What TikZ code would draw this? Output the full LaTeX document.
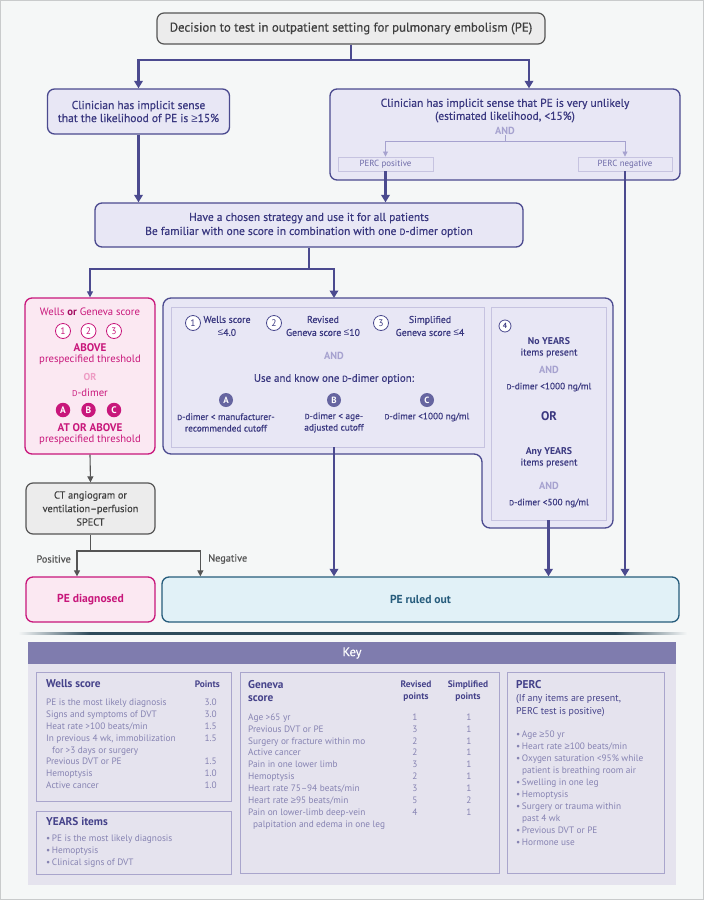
\documentclass[tikz,border=0pt]{standalone}
\usepackage{fontspec}
\setmainfont{PT Sans}
\newfontfamily\medf[FakeBold=0.45]{PT Sans}
\newfontfamily\symf{Liberation Sans}
\usetikzlibrary{arrows.meta,calc}
\definecolor{bg}{HTML}{F5F7F7}
\definecolor{frame}{HTML}{C9CBCC}
\definecolor{pur}{HTML}{4B4A8F}
\definecolor{purtxt}{HTML}{3A3880}
\definecolor{lav}{HTML}{E8E7F5}
\definecolor{lavline}{HTML}{C6C3E0}
\definecolor{lightpur}{HTML}{A6A2CF}
\definecolor{perctxt}{HTML}{6E6BA8}
\definecolor{mag}{HTML}{C8177B}
\definecolor{magdark}{HTML}{A30E62}
\definecolor{pinkfill}{HTML}{FBE8F2}
\definecolor{lightpink}{HTML}{EE9CC4}
\definecolor{gry}{HTML}{555555}
\definecolor{gryfill}{HTML}{ECECEC}
\definecolor{titletxt}{HTML}{3F3F3F}
\definecolor{teal}{HTML}{265C7C}
\definecolor{tealfill}{HTML}{E1F1F7}
\definecolor{sepcol}{HTML}{2D4A5A}
\definecolor{keyhead}{HTML}{7F7CAE}
\definecolor{keybg}{HTML}{E5E3EE}
\definecolor{keyline}{HTML}{A9A5CC}
\definecolor{keytxt}{HTML}{8683B2}
\definecolor{keyhd}{HTML}{45428A}
\newcommand{\Dd}{\scalebox{0.78}{D}}
\newcommand{\bul}{•\,}
\newcommand{\GEQ}{{\symf ≥}}
\newcommand{\LEQ}{{\symf ≤}}
\begin{document}
\begin{tikzpicture}[x=1pt,y=-1pt,
  thk/.style={draw=pur, line width=2.6pt},
  thkarr/.style={thk, -{Triangle[width=8.5pt,length=7.5pt]}},
  thinarr/.style={draw=pur, line width=1.1pt, -{Triangle[width=6pt,length=6pt]}},
  gryarr/.style={draw=gry, line width=1.1pt, -{Triangle[width=6pt,length=6pt]}},
  lightarr/.style={draw=lightpur, line width=0.8pt, -{Triangle[width=5pt,length=5pt]}},
  mainbox/.style={draw=pur, fill=lav, line width=1.3pt, rounded corners=7pt, inner sep=0pt, align=center, text=purtxt},
  percbox/.style={draw=lavline, fill=lav, line width=0.9pt, minimum height=14pt, inner sep=0pt, text=perctxt, font=\fontsize{8.9}{10}\selectfont},
  innerbox/.style={draw=lavline, fill=lav, line width=0.9pt, inner sep=0pt},
  txt/.style={inner sep=0.5pt, align=center},
  ocirc/.style={circle, draw=pur, fill=white, line width=0.8pt, minimum size=15pt, inner sep=0pt, text=purtxt, font=\fontsize{9.5}{9}\selectfont},
  fcirc/.style={circle, fill=pur!85!white, minimum size=14pt, inner sep=0pt, text=white, font=\fontsize{9}{9}\selectfont\bfseries},
  pcirc/.style={circle, draw=mag, fill=white, line width=0.8pt, minimum size=15pt, inner sep=0pt, text=mag, font=\fontsize{9.5}{9}\selectfont},
  pfcirc/.style={circle, fill=mag, minimum size=14.5pt, inner sep=0pt, text=white, font=\fontsize{9.5}{9}\selectfont\bfseries},
  pt/.style={inner sep=0.5pt, text=mag, font=\fontsize{10.7}{12}\selectfont},
  ptb/.style={inner sep=0.5pt, text=mag, font=\fontsize{11.1}{12}\selectfont\bfseries},
  st/.style={inner sep=0.5pt, align=center, text=purtxt, font=\medf\fontsize{9.8}{13}\selectfont},
  sd/.style={inner sep=0.5pt, align=center, text=purtxt, font=\medf\fontsize{9.3}{11.5}\selectfont},
  andt/.style={inner sep=0.5pt, text=lightpur, font=\fontsize{10.3}{11}\selectfont\bfseries},
  keybox/.style={draw=keyline, fill=keybg, line width=0.9pt, inner sep=0pt},
  keyt/.style={inner sep=0pt, text=keytxt, font=\fontsize{9.3}{10}\selectfont},
  keyh/.style={inner sep=0pt, text=keyhd, font=\fontsize{11.3}{12}\selectfont\bfseries},
  keyc/.style={inner sep=0pt, text=keyhd, font=\fontsize{9.4}{10}\selectfont\bfseries}
]
\useasboundingbox (0,0) rectangle (704,900);
\draw[fill=bg, draw=frame, line width=1pt] (0.5,0.5) rectangle (703.5,899.5);

% ---------- top part
\node[draw=gry, fill=gryfill, line width=1.2pt, rounded corners=7pt, minimum width=388pt, minimum height=31pt, inner sep=0pt, text=titletxt, font=\medf\fontsize{12.8}{14}\selectfont] (title) at (351,28.5) {Decision to test in outpatient setting for pulmonary embolism (PE)};

\node[mainbox, minimum width=182pt, minimum height=45pt, font=\medf\fontsize{11.5}{13}\selectfont] (lbox) at (138.5,111.5) {Clinician has implicit sense\\that the likelihood of PE is \GEQ15\%};

\node[mainbox, minimum width=350pt, minimum height=91pt] (rbox) at (505,134.5) {};
\node[txt, text=purtxt, font=\medf\fontsize{11.5}{13}\selectfont] (rtext) at (505,110.5) {Clinician has implicit sense that PE is very unlikely\\(estimated likelihood, <15\%)};
\node[andt] (rand) at (505,131) {AND};
\node[percbox, minimum width=95pt] (ppos) at (385.5,164) {PERC positive};
\node[percbox, minimum width=94pt] (pneg) at (625,164) {PERC negative};
\coordinate (rj) at (505,141);
\draw[draw=lightpur, line width=0.8pt] (rand.south) -- (rj);
\draw[lightarr] (rj) -| (ppos.north);
\draw[lightarr] (rj) -| (pneg.north);

\node[mainbox, minimum width=428pt, minimum height=44pt, font=\medf\fontsize{11.5}{14}\selectfont] (strat) at (309,225) {Have a chosen strategy and use it for all patients\\Be familiar with one score in combination with one \Dd-dimer option};

\coordinate (tj) at (351,60);
\draw[thkarr] (title.south) -- (tj) -| (lbox.north);
\draw[thkarr] (title.south) -- (tj) -| ([xshift=24pt]rbox.north);
\draw[thkarr] (lbox.south) -- (lbox.south |- strat.north);
\draw[thkarr] (ppos.south) -- (ppos.south |- strat.north);

% ---------- middle part
\draw[draw=pur, fill=lav, line width=1.3pt, rounded corners=8pt] (390,298) -- (613,298) -- (613,528) -- (482,528) -- (482,454) -- (163,454) -- (163,298) -- cycle;
\node[innerbox, minimum width=313pt, minimum height=140pt] (sc) at (327.5,377) {};
\node[innerbox, minimum width=115pt, minimum height=213pt] (years) at (548.5,413.5) {};

\node[draw=mag, fill=pinkfill, line width=1.3pt, rounded corners=7pt, minimum width=130pt, minimum height=156pt, inner sep=0pt] (pink) at (90,376) {};

\coordinate (sj) at (309,269);
\coordinate (otop) at (334,298);
\draw[thinarr] (sj) -| (pink.north);
\draw[thkarr] (strat.south) -- (sj) -| (otop);

% pink contents
\node[pt] (p1) at (90,312) {Wells {\bfseries\color{magdark}or} Geneva score};
\node[pcirc] (pc1) at (63,331) {1};
\node[pcirc] (pc2) at (88.5,331) {2};
\node[pcirc] (pc3) at (114,331) {3};
\node[ptb] (p2) at (90,348) {ABOVE};
\node[pt] (p3) at (90,360) {prespecified threshold};
\node[pt, text=lightpink, font=\fontsize{10}{11}\selectfont\bfseries] (p4) at (90,377) {OR};
\node[pt] (p5) at (90,393) {\Dd-dimer};
\node[pfcirc] (pa) at (63,410) {A};
\node[pfcirc] (pb) at (88.5,410) {B};
\node[pfcirc] (pcc) at (114,410) {C};
\node[ptb] (p6) at (90,428) {AT OR ABOVE};
\node[pt] (p7) at (90,440) {prespecified threshold};

% score box contents
\node[ocirc] (c1) at (193,323) {1};
\node[st] (s1) at (227,326) {Wells score\\\LEQ4.0};
\node[ocirc] (c2) at (274,323) {2};
\node[st] (s2) at (323,326) {Revised\\Geneva score \LEQ10};
\node[ocirc] (c3) at (381,323) {3};
\node[st] (s3) at (430,326) {Simplified\\Geneva score \LEQ4};
\node[andt] (sand) at (334,356) {AND};
\node[st, font=\medf\fontsize{10.9}{12}\selectfont] (suse) at (334,379) {Use and know one \Dd-dimer option:};
\node[fcirc] (fa) at (226,400) {A};
\node[fcirc] (fb) at (334,400) {B};
\node[fcirc] (fc) at (427,400) {C};
\node[sd] (da) at (226,422.5) {\Dd-dimer < manufacturer-\\recommended cutoff};
\node[sd] (db) at (334,422.5) {\Dd-dimer < age-\\adjusted cutoff};
\node[sd] (dc) at (427,417) {\Dd-dimer <1000 ng/ml};

% years contents
\node[ocirc, minimum size=12pt, font=\fontsize{7.5}{7}\selectfont\bfseries] (c4) at (505,326) {4};
\node[st, font=\fontsize{9.8}{10}\selectfont\bfseries] (y1) at (549,341) {No YEARS};
\node[st] (y2) at (549,353) {items present};
\node[andt] (y3) at (549,370) {AND};
\node[sd] (y4) at (549,387) {\Dd-dimer <1000 ng/ml};
\node[st, font=\fontsize{12.5}{14}\selectfont\bfseries] (y5) at (549,416) {OR};
\node[st, font=\fontsize{9.8}{10}\selectfont\bfseries] (y6) at (549,452) {Any YEARS};
\node[st] (y7) at (549,463) {items present};
\node[andt] (y8) at (549,486) {AND};
\node[sd] (y9) at (549,503) {\Dd-dimer <500 ng/ml};

% ---------- lower part
\node[draw=gry, fill=gryfill, line width=1.2pt, rounded corners=7pt, minimum width=129pt, minimum height=51pt, inner sep=0pt, align=center, text=titletxt, font=\medf\fontsize{10.3}{13.5}\selectfont] (ct) at (90.5,508.5) {CT angiogram or\\ventilation–perfusion\\SPECT};
\draw[gryarr] (pink.south) -- (ct.north);

\node[draw=mag, fill=pinkfill, line width=1.3pt, rounded corners=7pt, minimum width=129pt, minimum height=45pt, inner sep=0pt, text=mag, font=\fontsize{11.6}{12}\selectfont\bfseries] (diag) at (90.5,599.5) {PE diagnosed};
\node[draw=teal, fill=tealfill, line width=1.3pt, rounded corners=7pt, minimum width=517pt, minimum height=45pt, inner sep=0pt, text=teal, font=\fontsize{11.6}{12}\selectfont\bfseries] (ruled) at (420.5,599.5) {PE ruled out};

\coordinate (cj) at (90.5,551);
\draw[gryarr] (ct.south) -- (cj) -| ([xshift=-13.5pt]diag.north);
\draw[gryarr] (cj) -| ([xshift=39pt]ruled.north west);
\node[inner sep=0pt, anchor=east, text=gry, font=\medf\fontsize{10.3}{11}\selectfont] (lpos) at (71,559) {Positive};
\node[inner sep=0pt, anchor=west, text=gry, font=\medf\fontsize{10.3}{11}\selectfont] (lneg) at (208,559) {Negative};

\coordinate (scb) at ([xshift=6.5pt]sc.south);
\draw[thkarr] (scb) -- (scb |- ruled.north);
\draw[thkarr] (years.south) -- (years.south |- ruled.north);
\draw[thkarr] (pneg.south) -- (pneg.south |- ruled.north);

% separator
\shade[left color=bg, right color=sepcol] (18,632) rectangle (90,634.5);
\fill[sepcol] (90,632) rectangle (615,634.5);
\shade[left color=sepcol, right color=bg] (615,632) rectangle (687,634.5);

% ---------- key
\fill[keybg] (28,664) rectangle (676,885);
\node[fill=keyhead, minimum width=648pt, minimum height=22pt, inner sep=0pt, text=white, font=\medf\fontsize{12.5}{13}\selectfont] (keyh) at (352,653) {Key};

\node[keybox, minimum width=195pt, minimum height=129pt] (wbox) at (133.5,736.5) {};
\node[keybox, minimum width=195pt, minimum height=63pt] (ybox) at (133.5,842.5) {};
\node[keybox, minimum width=259pt, minimum height=201pt] (gbox) at (369.5,772.5) {};
\node[keybox, minimum width=157pt, minimum height=201pt] (pbox) at (585.5,772.5) {};

% Wells
\node[keyh, anchor=base west] (wh) at (46,687) {Wells score};
\node[keyc, anchor=base east] (whp) at (220,687) {Points};
\node[keyt, anchor=base west] (w1) at (46,705) {PE is the most likely diagnosis};
\node[keyt, anchor=base west] (w2) at (46,717) {Signs and symptoms of DVT};
\node[keyt, anchor=base west] (w3) at (46,729) {Heat rate >100 beats/min};
\node[keyt, anchor=base west] (w4) at (46,741) {In previous 4 wk, immobilization};
\node[keyt, anchor=base west] (w5) at (52,753) {for >3 days or surgery};
\node[keyt, anchor=base west] (w6) at (46,764) {Previous DVT or PE};
\node[keyt, anchor=base west] (w7) at (46,776) {Hemoptysis};
\node[keyt, anchor=base west] (w8) at (46,788) {Active cancer};
\node[keyt, anchor=base east] (wv1) at (217,705) {3.0};
\node[keyt, anchor=base east] (wv2) at (217,717) {3.0};
\node[keyt, anchor=base east] (wv3) at (217,729) {1.5};
\node[keyt, anchor=base east] (wv4) at (217,741) {1.5};
\node[keyt, anchor=base east] (wv6) at (217,764) {1.5};
\node[keyt, anchor=base east] (wv7) at (217,776) {1.0};
\node[keyt, anchor=base east] (wv8) at (217,788) {1.0};

% YEARS
\node[keyh, anchor=base west] (yh) at (46,825) {YEARS items};
\node[keyt, anchor=base west] (yi1) at (46,841) {\bul PE is the most likely diagnosis};
\node[keyt, anchor=base west] (yi2) at (46,853) {\bul Hemoptysis};
\node[keyt, anchor=base west] (yi3) at (46,865) {\bul Clinical signs of DVT};

% Geneva
\node[keyh, anchor=base west] (gh1) at (248,688) {Geneva};
\node[keyh, anchor=base west] (gh2) at (248,701) {score};
\node[keyc, anchor=base] (gr1) at (416,687) {Revised};
\node[keyc, anchor=base] (gr2) at (416,699) {points};
\node[keyc, anchor=base] (gs1) at (468,687) {Simplified};
\node[keyc, anchor=base] (gs2) at (468,699) {points};
\node[keyt, anchor=base west] (g1) at (248,720) {Age >65 yr};
\node[keyt, anchor=base west] (g2) at (248,732) {Previous DVT or PE};
\node[keyt, anchor=base west] (g3) at (248,744) {Surgery or fracture within mo};
\node[keyt, anchor=base west] (g4) at (248,755) {Active cancer};
\node[keyt, anchor=base west] (g5) at (248,767) {Pain in one lower limb};
\node[keyt, anchor=base west] (g6) at (248,779) {Hemoptysis};
\node[keyt, anchor=base west] (g7) at (248,791) {Heart rate 75–94 beats/min};
\node[keyt, anchor=base west] (g8) at (248,803) {Heart rate \GEQ95 beats/min};
\node[keyt, anchor=base west] (g9) at (248,815) {Pain on lower-limb deep-vein};
\node[keyt, anchor=base west] (g10) at (253,827) {palpitation and edema in one leg};
\node[keyt, anchor=base] (gr01) at (415,720) {1};
\node[keyt, anchor=base] (gr02) at (415,732) {3};
\node[keyt, anchor=base] (gr03) at (415,744) {2};
\node[keyt, anchor=base] (gr04) at (415,755) {2};
\node[keyt, anchor=base] (gr05) at (415,767) {3};
\node[keyt, anchor=base] (gr06) at (415,779) {2};
\node[keyt, anchor=base] (gr07) at (415,791) {3};
\node[keyt, anchor=base] (gr08) at (415,803) {5};
\node[keyt, anchor=base] (gr09) at (415,815) {4};
\node[keyt, anchor=base] (gs01) at (469,720) {1};
\node[keyt, anchor=base] (gs02) at (469,732) {1};
\node[keyt, anchor=base] (gs03) at (469,744) {1};
\node[keyt, anchor=base] (gs04) at (469,755) {1};
\node[keyt, anchor=base] (gs05) at (469,767) {1};
\node[keyt, anchor=base] (gs06) at (469,779) {1};
\node[keyt, anchor=base] (gs07) at (469,791) {1};
\node[keyt, anchor=base] (gs08) at (469,803) {2};
\node[keyt, anchor=base] (gs09) at (469,815) {1};

% PERC
\node[keyh, anchor=base west] (ph) at (516,688) {PERC};
\node[keyt, anchor=base west, text=keyhd, font=\fontsize{9.9}{10}\selectfont] (ph2) at (516,701) {(If any items are present,};
\node[keyt, anchor=base west, text=keyhd, font=\fontsize{9.9}{10}\selectfont] (ph3) at (516,714) {PERC test is positive)};
\node[keyt, anchor=base west] (pi1) at (516,737) {\bul Age \GEQ50 yr};
\node[keyt, anchor=base west] (pi2) at (516,749) {\bul Heart rate \GEQ100 beats/min};
\node[keyt, anchor=base west] (pi3) at (516,761) {\bul Oxygen saturation <95\% while};
\node[keyt, anchor=base west] (pi4) at (522,773) {patient is breathing room air};
\node[keyt, anchor=base west] (pi5) at (516,785) {\bul Swelling in one leg};
\node[keyt, anchor=base west] (pi6) at (516,797) {\bul Hemoptysis};
\node[keyt, anchor=base west] (pi7) at (516,809) {\bul Surgery or trauma within};
\node[keyt, anchor=base west] (pi8) at (522,821) {past 4 wk};
\node[keyt, anchor=base west] (pi9) at (516,833) {\bul Previous DVT or PE};
\node[keyt, anchor=base west] (pi10) at (516,845) {\bul Hormone use};
\end{tikzpicture}
\end{document}
